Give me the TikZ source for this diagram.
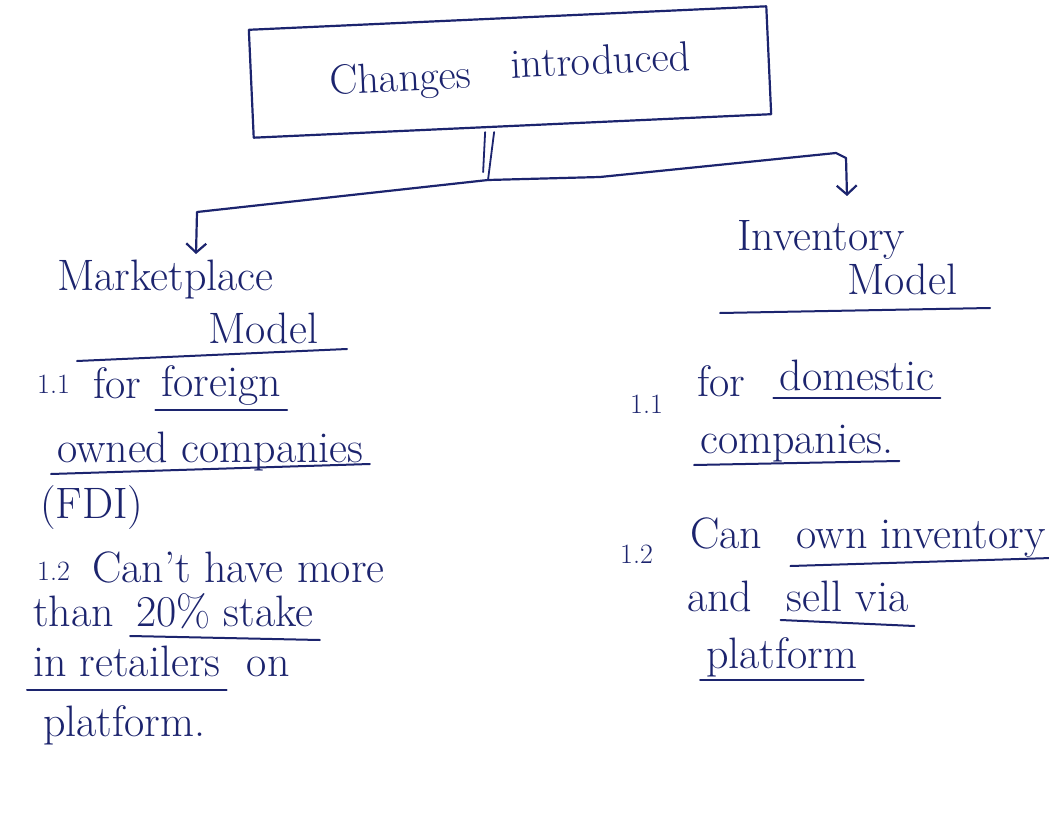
\documentclass[tikz,border=0pt]{standalone}
\usetikzlibrary{arrows.meta,calc}
\definecolor{ink}{RGB}{28,36,110}
\tikzset{
  hand/.style={text=ink, inner sep=0pt, anchor=base west, font=\fontsize{44}{50}\selectfont},
  num/.style={text=ink, inner sep=0pt, anchor=base west, font=\fontsize{28}{32}\selectfont},
  pen/.style={draw=ink, line width=2.2pt, line cap=round, line join=round},
  arr/.style={pen, -{Straight Barb[length=9pt,width=20pt,line width=2.2pt]}},
  uline/.style={pen, line width=2pt}
}
\newcommand{\ul}[3][0]{\draw[uline] ($(#2.base west)+(-6,#3)$) -- ($(#2.base east)+(6,#3+#1)$);}
\begin{document}
\begin{tikzpicture}[x=1pt,y=-1pt]
\useasboundingbox[fill=white] (0,0) rectangle (1049,837);

% top box
\node[pen, rotate=2.6, minimum width=518pt, minimum height=108pt, text=ink,
      font=\fontsize{42}{48}\selectfont, inner sep=0pt] (top) at (510,72) {\raisebox{-8pt}{Changes}\hspace{40pt}introduced};

\coordinate (j) at (488,180);
\coordinate (la) at (196,254);
\coordinate (ra) at (847,196);

% double stroke from box to junction
\draw[pen, line width=1.8pt] ($(top.south west)!0.455!(top.south east)+(-4,4)$) -- ++(-2,40);
\draw[pen, line width=1.8pt] ($(top.south west)!0.455!(top.south east)+(5,4)$) -- (j);

% branches
\draw[arr] (j) -- (197,212) -- (la);
\draw[arr] (j) -- (600,177) -- (836,153) -- (846,158) -- (ra);

% left column
\node[hand] (mkt) at (57,290) {Marketplace};
\node[hand] (mktm) at (208,343) {Model};
\draw[uline] (77,361) -- (347,349);

\node[num] (l11) at (37,393) {1.1};
\node[hand] (l11a) at (93,398) {for};
\node[hand] (l11b) at ($(l11a.base east)+(20,-2)$) {foreign};
\ul{l11b}{14}
\node[hand] (l11c) at (57,462) {owned companies};
\ul[-10]{l11c}{12}
\node[hand] (l11d) at (40,518) {(FDI)};

\node[num] (l12) at (37,580) {1.2};
\node[hand] (l12a) at (92,582) {Can't have more};
\node[hand] (l12b) at (33,626) {than};
\node[hand] (l12c) at ($(l12b.base east)+(22,0)$) {20\% stake};
\ul[4]{l12c}{10}
\node[hand] (l12d) at (33,676) {in retailers};
\node[hand] (l12e) at ($(l12d.base east)+(26,0)$) {on};
\ul{l12d}{14}
\node[hand] (l12f) at (43,736) {platform.};

% right column
\node[hand] (inv) at (737,250) {Inventory};
\node[hand] (invm) at (847,294) {Model};
\draw[uline] (720,313) -- (990,308);

\node[num] (r11) at (630,413) {1.1};
\node[hand] (r11a) at (697,396) {for};
\node[hand] (r11b) at ($(r11a.base east)+(34,-6)$) {domestic};
\ul{r11b}{8}
\node[hand] (r11c) at (700,453) {companies.};
\ul[-4]{r11c}{12}

\node[num] (r12) at (620,563) {1.2};
\node[hand] (r12a) at (690,548) {Can};
\node[hand] (r12b) at ($(r12a.base east)+(34,0)$) {own inventory};
\ul[-8]{r12b}{18}
\node[hand] (r12c) at (687,611) {and};
\node[hand] (r12d) at ($(r12c.base east)+(34,0)$) {sell via};
\ul[6]{r12d}{9}
\node[hand] (r12e) at (706,668) {platform};
\ul{r12e}{12}
\end{tikzpicture}
\end{document}
